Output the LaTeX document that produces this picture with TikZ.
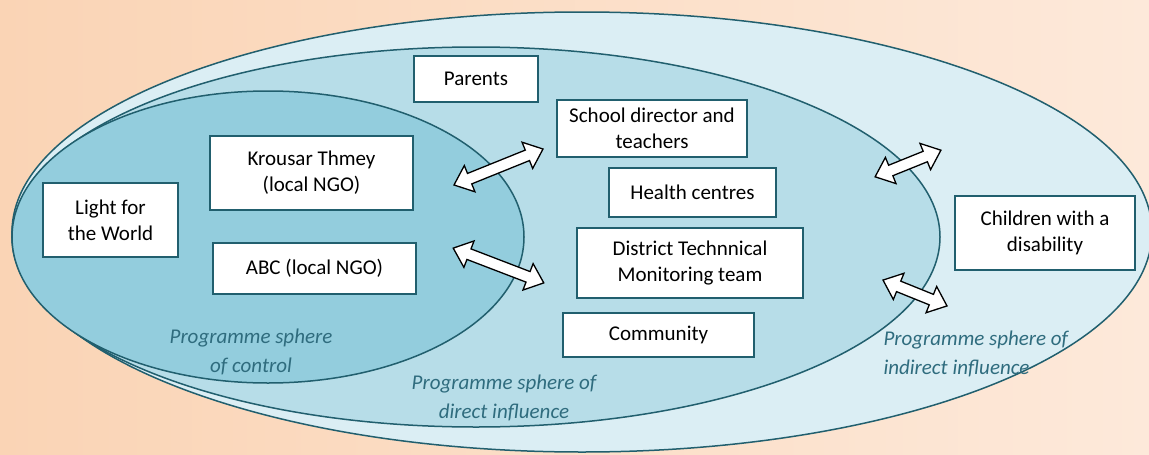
\documentclass[tikz,border=0pt]{standalone}
\usepackage{fontspec}
\setmainfont{Carlito}
\usepackage{tikz}
\usetikzlibrary{shapes.arrows,calc}

\definecolor{bgleft}{HTML}{FAD4B5}
\definecolor{bgright}{HTML}{FDE9DA}
\definecolor{ctrl}{HTML}{93CDDD}
\definecolor{direct}{HTML}{B7DDE8}
\definecolor{indirect}{HTML}{DBEEF4}
\definecolor{rim}{HTML}{215F6E}
\definecolor{sphere}{HTML}{2F6C7E}

\begin{document}
\begin{tikzpicture}[x=1pt,y=-1pt]
	\path [use as bounding box] (0,0) rectangle (1149,455);
	\tikzstyle{actor} = [draw=rim, line width=2pt, fill=white, inner sep=0pt, align=center,
		font=\fontsize{21}{26}\selectfont]
	\tikzstyle{label} = [text=sphere, font=\fontsize{21}{29}\selectfont\itshape]
	\tikzstyle{swap} = [double arrow, draw=black, fill=white, line width=1.3pt, inner sep=5pt,
		double arrow head extend=8.5pt, double arrow tip angle=80]
	% background and spheres
	\shade [left color=bgleft, right color=bgright] (0,0) rectangle (1149,455);
	\begin{scope}
		\clip (0,0) rectangle (1149,455);
		\draw [rim, line width=1.5pt, fill=indirect] (582,232) ellipse [x radius=570, y radius=220];
		\draw [rim, line width=1.5pt, fill=direct] (476,237) ellipse [x radius=464, y radius=190];
		\draw [rim, line width=1.5pt, fill=ctrl] (268,237) ellipse [x radius=256, y radius=146];
	\end{scope}
	% actors
	\node [actor, minimum width=135pt, minimum height=74pt] (light) at (110.5,220) {Light for\\the World};
	\node [actor, minimum width=203pt, minimum height=74pt] (krousar) at (311.5,173) {Krousar Thmey\\(local NGO)};
	\node [actor, minimum width=203pt, minimum height=51pt] (abc) at (314.5,268.5) {ABC (local NGO)};
	\node [actor, minimum width=124pt, minimum height=46pt] (parents) at (476,79) {Parents};
	\node [actor, minimum width=190pt, minimum height=57pt] (school) at (652,128.5) {School director and\\teachers};
	\node [actor, minimum width=167pt, minimum height=49pt] (health) at (692.5,192.5) {Health centres};
	\node [actor, minimum width=226pt, minimum height=70pt] (district) at (690,263) {District Technnical\\Monitoring team};
	\node [actor, minimum width=191pt, minimum height=44pt] (community) at (658.5,335) {Community};
	\node [actor, minimum width=180pt, minimum height=74pt] (children) at (1045,233) {Children with a\\disability};
	% influence arrows
	\node [swap, minimum height=96pt, rotate=22] (swapA) at (498.5,167) {};
	\node [swap, minimum height=97pt, rotate=-21] (swapB) at (498.5,265.5) {};
	\node [swap, minimum height=71pt, rotate=22] (swapC) at (908,163.5) {};
	\node [swap, minimum height=69pt, rotate=-22] (swapD) at (915,293) {};
	% sphere names
	\node [label, align=center] (control) at (251,352) {Programme sphere\\of control};
	\node [label, align=center] (directlbl) at (504,398) {Programme sphere of\\direct influence};
	\node [label, align=left, anchor=west] (indirectlbl) at (880,353.5) {Programme sphere of\\indirect influence};
\end{tikzpicture}
\end{document}
